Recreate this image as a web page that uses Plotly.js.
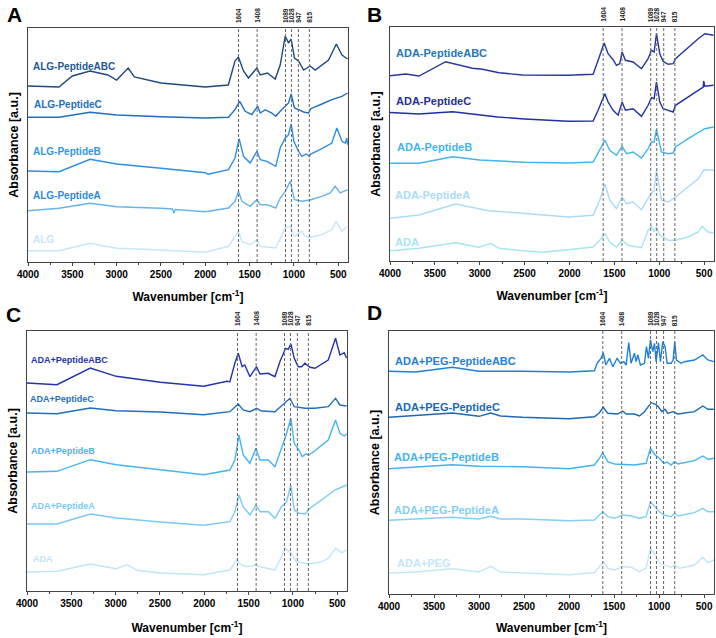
<!DOCTYPE html>
<html><head><meta charset="utf-8">
<script src="https://cdn.plot.ly/plotly-3.0.1.min.js"></script>
<style>html,body{margin:0;padding:0;background:#fff}#chart{width:716px;height:638px}</style>
</head><body><div id="chart"></div>
<script>
// ---------- Panel A : ALG series ----------
const A_ABC_wn  = [4000,3650,3500,3300,3100,3000,2870,2800,2500,2000,1740,1665,1626,1569,1513,1418,1380,1300,1211,1155,1098,1061,1031,994,948,891,816,760,609,522,458,395];
const A_ABC_abs = [176,175,186,191,187,182,194,185,179,175,177,201,205,191,184,194,187,189,183,197,226,219,223,204,201,192,196,192,202,218,207,203];
const A_C_wn  = [4000,3650,3300,3000,2500,2000,1738,1665,1612,1550,1475,1410,1380,1325,1249,1205,1155,1098,1061,1031,994,948,891,835,810,684,572,458,395];
const A_C_abs = [144.7,144.7,149.7,147,145.3,144,144.7,152.3,160.7,150.7,147.3,155.7,149,152.3,149,145.7,150.7,155.7,159,168,154,152.3,150,149,153.3,158,162.3,165.7,169];
const A_B_wn  = [4000,3650,3300,3000,2500,2000,1970,1738,1665,1618,1569,1494,1418,1380,1305,1205,1155,1098,1061,1031,1001,948,910,862,828,810,684,572,516,458,421,403,395];
const A_B_abs = [91,90.3,102.7,98,93.7,89.3,87.7,92.3,104,123.3,105.7,99,110.7,102.3,100.7,95.7,114,124,127.3,138,120.7,110.7,105.7,108,105.7,108,113.3,119,134,120.7,119,124,117.3];
const A_A_wn  = [4000,3650,3300,3000,2500,2370,2355,2340,2000,1738,1665,1626,1587,1494,1418,1380,1305,1205,1155,1098,1042,994,910,810,684,590,535,478,395];
const A_A_abs = [51.3,53.7,58.7,55.3,53.7,53,48.7,52.5,50.3,54,60.7,70.7,60.7,55.7,62.3,57.3,57.3,54,64,70.7,80.7,62.3,60.7,62.3,65.7,69,75.7,69,72.3];
const A_ALG_wn  = [4000,3650,3300,3000,2500,2000,1738,1626,1587,1494,1418,1380,1205,1098,1042,994,910,873,810,684,572,522,458,395];
const A_ALG_abs = [11.3,11.3,18.7,13.7,12,9.7,15.7,30.7,20.7,17.3,22.3,15.7,14,34,35.7,25.7,30.7,25.7,24.7,27.3,32.3,40.7,30.7,35.7];

// ---------- Panel B : ADA series ----------
const B_ABC_wn  = [4000,3825,3677,3380,3082,2971,2785,2525,2016,1737,1681,1614,1570,1514,1477,1440,1414,1377,1291,1198,1124,1087,1057,1031,994,957,901,845,819,678,566,492,395];
const B_ABC_abs = [185.3,187,185,199.3,192.7,191.7,188.3,186,185.7,186.7,200.7,218,207.3,201.3,195.7,197.3,209,200.7,199,192.3,202.3,210.7,209,227.3,207.3,199.7,196.7,197.3,202.3,214,222.3,227.3,225.7];
const B_C_wn  = [4000,3677,3300,3000,2800,2500,2016,1737,1681,1606,1570,1514,1458,1414,1377,1291,1198,1124,1087,1057,1031,994,957,901,845,819,678,566,510,505,492,395];
const B_C_abs = [148.5,147,149.3,146,144,142,139.7,140,150.7,167.3,159,150.7,145.7,159,150.7,152.3,144.7,155.7,163.3,162.3,179,159,152.3,150.7,149,155.7,164,170.7,174,180,174.7,175.7];
const B_B_wn  = [4000,3677,3300,3000,2500,2016,1737,1663,1606,1551,1477,1414,1365,1291,1198,1124,1087,1057,1031,975,901,845,819,678,566,492,395];
const B_B_abs = [97.7,97.7,104.3,101,98.7,98,99,110.7,120.7,110.7,105.7,114.7,107.3,109,103,112.3,119,119,131.3,109,107.3,108,114,122.3,128,132.3,134];
const B_A_wn  = [4000,3677,3270,2900,2525,2016,1737,1663,1606,1551,1477,1414,1365,1291,1198,1105,1057,1031,975,901,819,678,566,500,395];
const B_A_abs = [42.7,46,57,50.3,47.7,44,45.7,60.7,77,60.7,52.3,64,57.3,59,51.3,65.7,70.7,90.7,60.7,59,64,74,82.3,91.3,90.7];
const B_ADA_wn  = [4000,3677,3270,3008,2880,2785,2525,2302,2016,1737,1663,1606,1551,1477,1414,1347,1198,1124,1087,1057,1031,994,901,819,678,566,522,455,395];
const B_ADA_abs = [10.3,12.7,18.3,13.7,17.7,12.7,10.3,8.7,11.3,14,20.7,27.3,19,14,20.7,15.7,13.3,30.7,34.7,29,34,25.7,20.7,20.7,24,29,34.7,29,28];

// ---------- Panel C : ADA+Peptide series ----------
const C_ABC_wn  = [4000,3662,3286,2993,2496,2007,1744,1711,1655,1617,1573,1543,1485,1410,1372,1278,1203,1147,1083,1053,1023,985,940,902,865,808,752,602,519,470,421,395];
const C_ABC_abs = [208,206.3,223,214.7,208.7,204.7,209.7,209.3,227.7,237.7,224.3,226,214.3,224.3,217,217.7,214.3,229.3,242.7,241.7,247,232.7,224.3,224.3,227.7,223.7,222.7,231,252.7,236,238.3,233];
const C_C_wn  = [4000,3662,3286,2993,2496,2007,1711,1617,1561,1485,1410,1353,1203,1147,1083,1033,985,865,752,602,519,470,395];
const C_C_abs = [178,177.3,183,180.3,179,176.3,179.3,187,181,179.3,182.7,180,179.3,183.7,189.3,192.7,184.3,182.7,182.7,184.3,192.7,186,185];
const C_B_wn  = [4000,3662,3286,2993,2496,2007,1711,1655,1609,1561,1485,1418,1372,1278,1203,1147,1083,1023,985,932,895,857,820,752,602,519,470,421,395];
const C_B_abs = [119,119.7,131.3,126.3,121.3,116.3,121,131,156,136,127.7,142.7,131,131,124.3,137.7,154.3,172.7,147.7,141,134.3,137,136,140.3,151,171,157.7,155,157];
const C_A_wn  = [4000,3662,3286,2993,2496,2007,1711,1655,1609,1561,1485,1418,1372,1278,1203,1128,1072,1023,985,932,865,808,677,527,395];
const C_A_abs = [67,67,77,73,69,65.7,69.3,79.3,96,84.3,76,86,79.3,79.3,72.7,84.3,89.3,106,81,77.7,77,82.7,91,101,106];
const C_ADA_wn  = [4000,3662,3286,2993,2872,2760,2496,2007,1711,1636,1580,1523,1410,1353,1203,1083,1023,966,865,808,677,602,519,451,395];
const C_ADA_abs = [19,19.7,27,22.3,26.3,20.7,18,16.3,21,31,26,24.3,26,23.7,21,42.7,37.7,29.3,27.7,27,29.3,32.7,42.7,38.3,41];

// ---------- Panel D : ADA+PEG series ----------
const D_ABC_wn  = [4000,3704,3296,3000,2518,2000,1718,1688,1645,1620,1592,1551,1514,1466,1429,1392,1366,1337,1311,1274,1255,1237,1207,1162,1140,1118,1096,1070,1051,1033,1007,985,959,933,911,866,844,826,807,755,718,607,514,458,392];
const D_ABC_abs = [222.7,222,226.7,222.7,222.7,222,223.3,230.7,235.7,241.3,229,235.7,227.3,235.7,230.7,232.3,229,251.3,230.7,240.7,232.3,239,229,230.7,247.3,235.7,254,242.3,250.7,232.3,251.3,232.3,252.3,247.3,230.7,230.7,234,252.3,234,230.7,232.3,234,239,234,232.3];
const D_C_wn  = [4000,3704,3296,3000,2870,2760,2518,2000,1718,1663,1620,1570,1459,1403,1366,1274,1218,1162,1088,1044,1007,970,933,904,848,792,607,514,458,392];
const D_C_abs = [176.7,178.7,181,177.7,181,178,176.7,175.3,177.3,181.3,186.7,180.7,180,183,180,180,178,182.3,191.3,190,187.3,182.3,184.7,180.7,182.3,180,182.3,188,184.7,184.7];
const D_B_wn  = [4000,3704,3296,3000,2518,2000,1718,1663,1626,1570,1496,1274,1144,1096,1044,996,948,911,866,829,792,607,514,458,392];
const D_B_abs = [125.3,126.7,129.3,127.7,127.3,125.3,129,135.7,141.3,132.3,130,129,130.7,145.7,139,135.7,130.7,132,129,132.3,130,133.3,138,134.7,135.7];
const D_A_wn  = [4000,3704,3296,3000,2870,2760,2518,2000,1718,1663,1626,1570,1496,1403,1311,1218,1144,1096,1044,996,948,866,829,792,607,514,458,392];
const D_A_abs = [73.7,75,76.7,75,77.7,75,75,73.3,74,79,82.3,77.3,75.7,79,78,75.7,77.3,92.3,87.3,82.3,79,77.3,80.7,78,81.3,85.7,82.3,82.3];
const D_PEG_wn  = [4000,3704,3296,3000,2870,2760,2518,2000,1718,1645,1620,1570,1496,1403,1311,1218,1144,1096,1044,996,948,866,829,773,607,514,458,392];
const D_PEG_abs = [21,22,25.3,22,27.7,22,21,19.3,21.3,29,32.3,25.7,24,27.3,26.7,22.3,25.7,45.7,39,30.7,29,26.7,29,25.7,29,36.7,31.3,34];

// ---------- Peak markers and tick labels ----------
const peakLabels    = ['1604','1408','1089','1028','947','815'];
const peakPositions = [1625,1415,1095,1028,950,826];
const xTickVals     = [4000,3500,3000,2500,2000,1500,1000,500];
const xMinorVals    = [3750,3250,2750,2250,1750,1250,750];

const W = 716, H = 638;
const FONT = 'Liberation Sans, Arial, Helvetica, sans-serif';
const px = x => x / W, py = y => 1 - y / H;

const panels = [
  { id:'', letter:'A', letterPos:[14,1], box:[28,28,348,262], yMax:234, lblSize:10, xStand:13,
    series:[
      {name:'ALG-PeptideABC', wn:A_ABC_wn, abs:A_ABC_abs, color:'#1f4a7c', lcolor:'#1f5a95', lp:[31,66.7]},
      {name:'ALG-PeptideC',   wn:A_C_wn,   abs:A_C_abs,   color:'#1f6fbf', lcolor:'#1f6fbf', lp:[32,104.3]},
      {name:'ALG-PeptideB',   wn:A_B_wn,   abs:A_B_abs,   color:'#2e8fe3', lcolor:'#3196e6', lp:[31,151.7]},
      {name:'ALG-PeptideA',   wn:A_A_wn,   abs:A_A_abs,   color:'#66b4ec', lcolor:'#2f8ad6', lp:[31,195.7]},
      {name:'ALG',            wn:A_ALG_wn, abs:A_ALG_abs, color:'#c6e6fa', lcolor:'#c6e6fa', lp:[31,239]}
    ]},
  { id:'2', letter:'B', letterPos:[374.5,1], box:[390,27,714,261], yMax:234, lblSize:11, xStand:13,
    series:[
      {name:'ADA-PeptideABC', wn:B_ABC_wn, abs:B_ABC_abs, color:'#27369c', lcolor:'#1f78b8', lp:[394,53.3]},
      {name:'ADA-PeptideC',   wn:B_C_wn,   abs:B_C_abs,   color:'#2030a2', lcolor:'#1f2fa0', lp:[394,101]},
      {name:'ADA-PeptideB',   wn:B_B_wn,   abs:B_B_abs,   color:'#3fb6f0', lcolor:'#3fb6f0', lp:[395,146.7]},
      {name:'ADA-PeptideA',   wn:B_A_wn,   abs:B_A_abs,   color:'#aadcf6', lcolor:'#aadcf6', lp:[393,195]},
      {name:'ADA',            wn:B_ADA_wn, abs:B_ADA_abs, color:'#a6e6f2', lcolor:'#a6e6f2', lp:[393,241.7]}
    ]},
  { id:'3', letter:'C', letterPos:[13.5,301], box:[27,331,347,591], yMax:260, lblSize:9, xStand:15,
    series:[
      {name:'ADA+PeptideABC', wn:C_ABC_wn, abs:C_ABC_abs, color:'#2335ad', lcolor:'#2335ad', lp:[29,360.3]},
      {name:'ADA+PeptideC',   wn:C_C_wn,   abs:C_C_abs,   color:'#1e6fc0', lcolor:'#1e6fc0', lp:[28,399]},
      {name:'ADA+PeptideB',   wn:C_B_wn,   abs:C_B_abs,   color:'#45b5f2', lcolor:'#45b5f2', lp:[29,451.3]},
      {name:'ADA+PeptideA',   wn:C_A_wn,   abs:C_A_abs,   color:'#79caf4', lcolor:'#79caf4', lp:[29,506.3]},
      {name:'ADA',            wn:C_ADA_wn, abs:C_ADA_abs, color:'#bfe6f8', lcolor:'#bfe6f8', lp:[31,558.7]}
    ]},
  { id:'4', letter:'D', letterPos:[374.5,299], box:[389,331,714,594], yMax:263, lblSize:11, xStand:12,
    series:[
      {name:'ADA+PEG-PeptideABC', wn:D_ABC_wn, abs:D_ABC_abs, color:'#1f80dc', lcolor:'#1f80dc', lp:[392.7,361.3]},
      {name:'ADA+PEG-PeptideC',   wn:D_C_wn,   abs:D_C_abs,   color:'#1a69b4', lcolor:'#1a69b4', lp:[392.7,407.3]},
      {name:'ADA+PEG-PeptideB',   wn:D_B_wn,   abs:D_B_abs,   color:'#42b4f0', lcolor:'#42b4f0', lp:[392,457.3]},
      {name:'ADA+PEG-PeptideA',   wn:D_A_wn,   abs:D_A_abs,   color:'#84cff5', lcolor:'#84cff5', lp:[392,509.7]},
      {name:'ADA+PEG',            wn:D_PEG_wn, abs:D_PEG_abs, color:'#c2e8f8', lcolor:'#c2e8f8', lp:[395,563]}
    ]}
];

const data = [];
const layout = {
  width: W, height: H, margin:{l:0,r:0,t:0,b:0},
  paper_bgcolor:'#fff', plot_bgcolor:'#fff', showlegend:false,
  font:{family:FONT, color:'#000'},
  annotations:[], shapes:[]
};

panels.forEach(p => {
  const xa = 'x' + p.id, ya = 'y' + p.id;
  const xKey = 'xaxis' + p.id, yKey = 'yaxis' + p.id;
  const [l,t,r,b] = p.box;
  layout[xKey] = {
    domain:[px(l), px(r)], anchor: ya, range:[4000,390], autorange:false,
    showline:true, linecolor:'#444', linewidth:1, mirror:true,
    ticks:'outside', ticklen:3, tickwidth:1, tickcolor:'#444',
    tickvals: xTickVals, ticktext: xTickVals.map(String),
    minor:{tickvals: xMinorVals, ticks:'outside', ticklen:2, tickcolor:'#444'},
    showgrid:false, zeroline:false,
    tickfont:{family:FONT, size:10, weight:700, color:'#000'},
    title:{text:'Wavenumber [cm<sup>-1</sup>]', standoff:p.xStand, font:{family:FONT, size:12, weight:700, color:'#000'}}
  };
  layout[yKey] = {
    domain:[py(b), py(t)], anchor: xa, range:[0,p.yMax], autorange:false,
    showline:true, linecolor:'#444', linewidth:1, mirror:true,
    ticks:'', showticklabels:false, showgrid:false, zeroline:false,
    title:{text:'Absorbance [a.u.]', standoff:5, font:{family:FONT, size:12.5, weight:700, color:'#000'}}
  };
  p.series.forEach(s => {
    data.push({type:'scatter', mode:'lines', x:s.wn, y:s.abs, xaxis:xa, yaxis:ya,
      name:s.name, line:{color:s.color, width:1.4}, hoverinfo:'skip'});
    layout.annotations.push({xref:'paper', yref:'paper', x:px(s.lp[0]), y:py(s.lp[1]),
      xanchor:'left', yanchor:'middle', showarrow:false, text:s.name,
      font:{family:FONT, size:p.lblSize, weight:700, color:s.lcolor}});
  });
  peakPositions.forEach((pos,i) => {
    layout.shapes.push({type:'line', xref:xa, yref:ya+' domain', x0:pos, x1:pos, y0:0, y1:1,
      line:{color:'#666', width:1, dash:'3px,2px'}});
    layout.annotations.push({xref:xa, yref:ya+' domain', x:pos, y:1, yshift:3,
      xanchor:'center', yanchor:'bottom', textangle:-90, showarrow:false, text:peakLabels[i],
      font:{family:FONT, size:6.5, weight:700, color:'#222'}});
  });
  layout.annotations.push({xref:'paper', yref:'paper', x:px(p.letterPos[0]), y:py(p.letterPos[1]),
    xanchor:'center', yanchor:'top', showarrow:false, text:p.letter,
    font:{family:FONT, size:21, weight:700, color:'#000'}});
});

Plotly.newPlot('chart', data, layout, {staticPlot:true, displayModeBar:false});
</script></body></html>
